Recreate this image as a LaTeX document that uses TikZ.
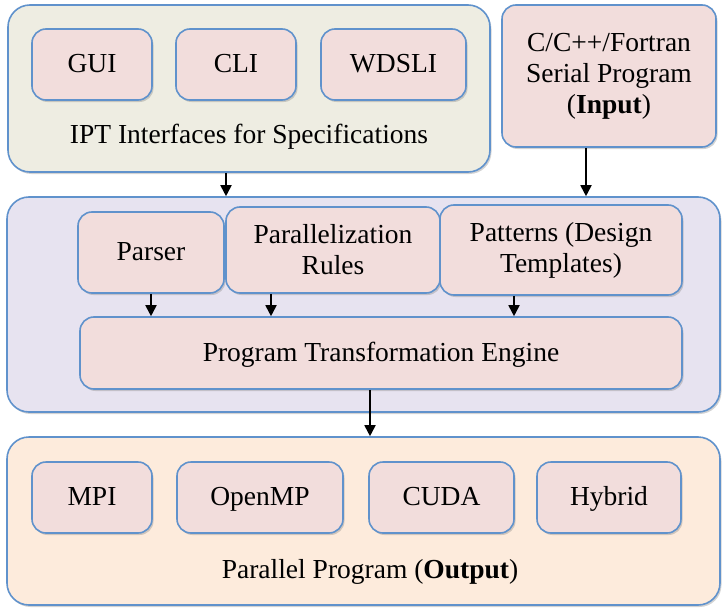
\documentclass[tikz,border=0pt]{standalone}
\usepackage{fontspec}
\setmainfont{Liberation Serif}
\usepackage{tikz}
\usetikzlibrary{arrows.meta,shadows}
\definecolor{edge}{RGB}{96,146,204}
\definecolor{boxpink}{RGB}{242,221,220}
\definecolor{iptbg}{RGB}{238,237,226}
\definecolor{midbg}{RGB}{231,227,240}
\definecolor{outbg}{RGB}{253,235,220}
\tikzset{
  >={Triangle[length=11pt,width=11pt]},
  shade/.style ={drop shadow={shadow xshift=1.5pt, shadow yshift=-2pt, opacity=0.35}},
  frame/.style ={draw=edge, line width=1.6pt, rounded corners=22pt, shade},
  box/.style   ={draw=edge, line width=1.6pt, rounded corners=14pt, fill=boxpink, shade,
                 align=center, font=\fontsize{27.5}{31}\selectfont},
  one/.style   ={box, align=none, text height=18pt, text depth=2pt},
  lbl/.style   ={font=\fontsize{27.5}{31}\selectfont},
  arr/.style   ={->, line width=1.8pt}
}
\begin{document}
\begin{tikzpicture}[x=1pt,y=-1pt]
\useasboundingbox (0,0) rectangle (723,610);
\node[frame, fill=iptbg, minimum width=482pt, minimum height=167pt] (ipt) at (249,88.5) {};
\node[one, minimum width=120pt, minimum height=71pt] (gui) at (92,64.5) {GUI};
\node[one, minimum width=120pt, minimum height=71pt] (cli) at (236,64.5) {CLI};
\node[one, minimum width=145pt, minimum height=71pt] (wdsli) at (393.5,64.5) {WDSLI};
\node[lbl] (iptlbl) at (249,137) {IPT Interfaces for Specifications};
\node[box, minimum width=214pt, minimum height=142pt] (input) at (609,76)
  {C/C++/Fortran\\Serial Program\\(\textbf{Input})};

\node[frame, fill=midbg, minimum width=713pt, minimum height=215pt] (mid) at (363.5,304.5) {};
\node[one, minimum width=146pt, minimum height=81pt] (parser) at (151,252.5) {Parser};
\node[box, minimum width=214pt, minimum height=86pt] (rules) at (333,250) {Parallelization\\Rules};
\node[box, minimum width=242pt, minimum height=90pt] (patterns) at (561,250) {Patterns (Design\\Templates)};
\node[one, minimum width=602pt, minimum height=72pt] (pte) at (381,353) {Program Transformation Engine};

\node[frame, fill=outbg, minimum width=713pt, minimum height=168pt] (out) at (363.5,521) {};
\node[one, minimum width=120pt, minimum height=71pt] (mpi) at (92,497.5) {MPI};
\node[one, minimum width=166pt, minimum height=71pt] (openmp) at (260,497.5) {OpenMP};
\node[one, minimum width=145pt, minimum height=71pt] (cuda) at (441.5,497.5) {CUDA};
\node[one, minimum width=144pt, minimum height=71pt] (hybrid) at (609,497.5) {Hybrid};
\node[lbl] (outlbl) at (370,572) {Parallel Program (\textbf{Output})};

\draw[arr] ([xshift=-23pt]ipt.south) -- ([xshift=-23pt]ipt.south |- mid.north);
\draw[arr] ([xshift=-23pt]input.south) -- ([xshift=-23pt]input.south |- mid.north);
\draw[arr] (parser.south) -- (parser.south |- pte.north);
\draw[arr] ([xshift=-62pt]rules.south) -- ([xshift=-62pt]rules.south |- pte.north);
\draw[arr] ([xshift=-47pt]patterns.south) -- ([xshift=-47pt]patterns.south |- pte.north);
\draw[arr] ([xshift=-11pt]pte.south) -- ([xshift=-11pt]pte.south |- out.north);
\end{tikzpicture}
\end{document}
